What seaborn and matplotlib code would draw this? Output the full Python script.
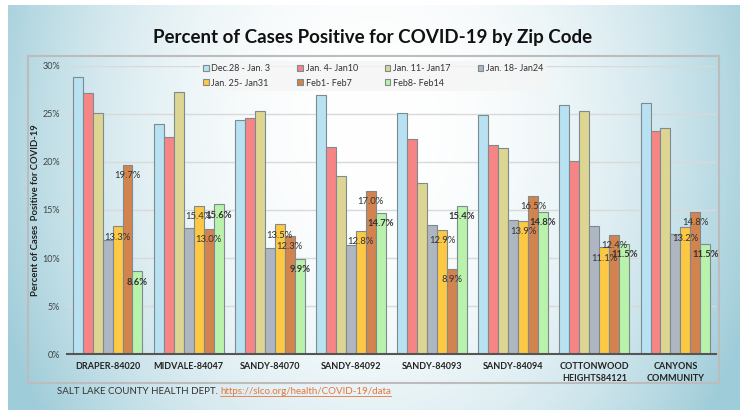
import numpy as np
import pandas as pd
import matplotlib
matplotlib.use("Agg")
import matplotlib.pyplot as plt
import seaborn as sns
from matplotlib.patches import Rectangle
from matplotlib.lines import Line2D

# zip code areas (x axis)
zips = ["DRAPER-84020", "MIDVALE-84047", "SANDY-84070", "SANDY-84092",
        "SANDY-84093", "SANDY-84094", "COTTONWOOD\nHEIGHTS84121", "CANYONS\nCOMMUNITY"]

# weekly series, percent positive
weeks = ["Dec.28 - Jan. 3", "Jan. 4- Jan10", "Jan. 11- Jan17", "Jan. 18- Jan24",
         "Jan. 25- Jan31", "Feb1- Feb7", "Feb8- Feb14"]
dec28 = [28.9, 24.0, 24.4, 27.0, 25.1, 24.9, 25.9, 26.1]
jan04 = [27.2, 22.6, 24.6, 21.6, 22.4, 21.8, 20.1, 23.2]
jan11 = [25.1, 27.3, 25.3, 18.5, 17.8, 21.5, 25.3, 23.5]
jan18 = [11.9, 13.1, 11.0, 11.4, 13.4, 14.0, 13.3, 12.5]
jan25 = [13.3, 15.4, 13.5, 12.8, 12.9, 13.9, 11.1, 13.2]
feb01 = [19.7, 13.0, 12.3, 17.0, 8.9, 16.5, 12.4, 14.8]
feb08 = [8.6, 15.6, 9.9, 14.7, 15.4, 14.8, 11.5, 11.5]
series = [dec28, jan04, jan11, jan18, jan25, feb01, feb08]

colors = ["#b8e2f2", "#f78585", "#ddd592", "#aeb7c1", "#fdc843", "#d3834e", "#b9f2ab"]

df = pd.DataFrame({
    "zip": zips * len(weeks),
    "pct": np.concatenate(series),
    "week": np.repeat(weeks, len(zips)),
})

plt.rcParams["font.family"] = ["Lato", "DejaVu Sans"]

fig = plt.figure(figsize=(7.45, 4.12), dpi=100)
W, H = 745, 412

# background gradient
bg = fig.add_axes([8 / W, 1 - 410 / H, 732 / W, 405 / H], zorder=-10)
gx, gy = np.meshgrid(np.linspace(0, 1, 300), np.linspace(0, 1, 200))
d = np.clip(np.sqrt(((gx - 0.5) / 0.55) ** 2 + ((gy - 0.3) / 1.3) ** 2), 0, 1) ** 2.2
edge = np.array([0.62, 0.80, 0.85])
img = (1 - d)[..., None] * np.ones(3) + d[..., None] * edge
bg.imshow(img, aspect="auto", extent=(0, 1, 0, 1))
bg.axis("off")

# panel border
fig.add_artist(Rectangle((28 / W, 1 - 383 / H), 691 / W, 327 / H, transform=fig.transFigure,
                         fill=False, edgecolor="#bcbcbc", lw=1.5))

ax = fig.add_axes([67 / W, 1 - 354 / H, 649 / W, 288 / H])
ax.patch.set_alpha(0)
sns.barplot(data=df, x="zip", y="pct", hue="week", hue_order=weeks, order=zips,
            palette=colors, saturation=1, width=0.86, edgecolor="#7d8a90",
            linewidth=0.8, ax=ax, legend=True)
ax.set_ylim(0, 30)
ax.set_xlim(-0.5, 7.5)
ax.set_yticks(np.arange(0, 31, 5))
ax.set_yticklabels([f"{v}%" for v in range(0, 31, 5)], fontsize=6.5, color="#444444")
ax.grid(axis="y", color="#d9d9d9", lw=1)
ax.set_axisbelow(True)
for s in ["top", "right", "left"]:
    ax.spines[s].set_visible(False)
ax.spines["bottom"].set_color("#555555")
ax.spines["bottom"].set_linewidth(1.5)
ax.tick_params(axis="y", length=0, pad=5)
ax.tick_params(axis="x", length=0, pad=6)
ax.set_xticks(range(len(zips)))
ax.set_xticklabels(zips, fontsize=6.5, fontweight="bold", color="#222222", linespacing=1.35)
ax.set_xlabel("")
ax.set_ylabel("Percent of Cases  Positive for COVID-19", fontsize=6.8, fontweight="bold",
              color="#222222", labelpad=2)

# value labels on the last three weeks
for i, weight in [(4, "normal"), (5, "normal"), (6, "bold")]:
    ax.bar_label(ax.containers[i], labels=[f"{v:.1f}%" for v in series[i]],
                 padding=-11, fontsize=6.8, fontweight=weight, color="#333333")

# legend filled row by row
handles, labels = ax.get_legend_handles_labels()
order = [0, 4, 1, 5, 2, 6, 3]
ax.legend([handles[i] for i in order], [labels[i] for i in order],
          loc="upper left", bbox_to_anchor=(195 / W, 1 - 56 / H),
          bbox_transform=fig.transFigure, ncol=4, fontsize=6.5, frameon=True,
          facecolor="#f5f5f5", edgecolor="none", framealpha=0.8, handlelength=0.6,
          handleheight=0.6, handletextpad=0.3, columnspacing=3.0, borderpad=0.4,
          labelspacing=0.6, labelcolor="#333333")

fig.text(0.5, 1 - 37 / H, "Percent of Cases Positive for COVID-19 by Zip Code",
         ha="center", va="center", fontsize=13.5, fontweight="bold", color="#111111")

src = fig.text(57 / W, 1 - 392 / H, "SALT LAKE COUNTY HEALTH DEPT. ", ha="left",
               va="center", fontsize=7, color="#333333")
link = ax.annotate("https://slco.org/health/COVID-19/data", xy=(1, 0), xycoords=src,
                   va="bottom", ha="left", fontsize=7, color="#e8743b",
                   annotation_clip=False)
fig.canvas.draw()
bb = link.get_window_extent().transformed(fig.transFigure.inverted())
fig.add_artist(Line2D([bb.x0, bb.x1], [bb.y0 + 0.002, bb.y0 + 0.002],
                      transform=fig.transFigure, color="#e8743b", lw=0.6))

fig.savefig("out.png", dpi=100)
